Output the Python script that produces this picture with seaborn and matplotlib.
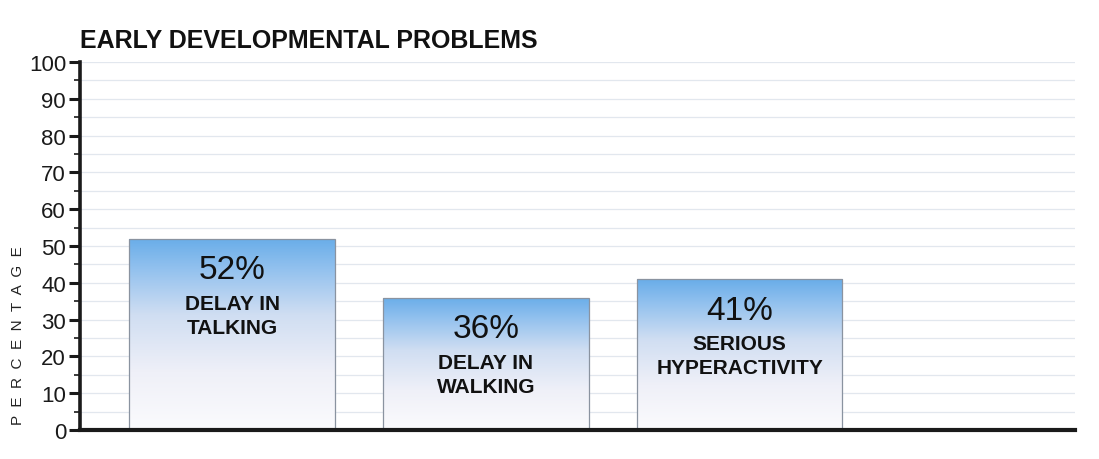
import numpy as np
import matplotlib
matplotlib.use("Agg")
import matplotlib.pyplot as plt
from matplotlib.colors import LinearSegmentedColormap
from matplotlib.ticker import MultipleLocator
import seaborn as sns

# Survey results: share of children with each early developmental problem
categories = ["DELAY IN\nTALKING", "DELAY IN\nWALKING", "SERIOUS\nHYPERACTIVITY"]
values = [52, 36, 41]
value_labels = ["52%", "36%", "41%"]
yticks = [0, 10, 20, 30, 40, 50, 60, 70, 80, 90, 100]
title = "EARLY DEVELOPMENTAL PROBLEMS"
ylabel = "P  E  R  C  E  N  T  A  G  E"

sns.set_theme(style="white")
plt.rcParams["font.family"] = ["Liberation Sans", "DejaVu Sans"]

fig = plt.figure(figsize=(10.99, 4.60), dpi=100)
ax = fig.add_axes([0.0728, 0.063, 0.905, 0.800])

sns.barplot(x=categories, y=values, width=0.81, color="white",
            edgecolor="#8a93a0", linewidth=0.9, ax=ax, zorder=3)

# blue-to-white vertical gradient inside each bar
cmap = LinearSegmentedColormap.from_list(
    "barfade", [(0.0, "#fbfbfd"), (0.3, "#eff0f8"), (0.6, "#d0def2"),
                (0.85, "#90c0ee"), (1.0, "#69ade9")])
grad = np.linspace(0, 1, 256).reshape(-1, 1)
for patch in ax.patches:
    x0, y0 = patch.get_x(), patch.get_y()
    w, h = patch.get_width(), patch.get_height()
    im = ax.imshow(grad, cmap=cmap, origin="lower", aspect="auto",
                   extent=[x0, x0 + w, y0, y0 + h], zorder=3.5)
    im.set_clip_path(patch)
    patch.set_zorder(4)
    patch.set_facecolor("none")

# value and category labels inside bars
for i, (v, lab, cat) in enumerate(zip(values, value_labels, categories)):
    ax.annotate(lab, (i, v), xytext=(0, -31), textcoords="offset pixels",
                ha="center", va="center", fontsize=24, color="#111111", zorder=6)
    ax.annotate(cat, (i, v), xytext=(0, -55), textcoords="offset pixels",
                ha="center", va="top", fontsize=15, fontweight="bold",
                color="#111111", linespacing=1.35, zorder=6)

ax.set_xlim(-0.6, 3.32)
ax.set_ylim(0, 100)
ax.set_yticks(yticks)
ax.yaxis.set_minor_locator(MultipleLocator(5))
ax.set_xticks([])
ax.set_xlabel("")

# faint horizontal rules
for y in np.arange(5, 101, 5):
    ax.axhline(y, color="#e2e7ee", lw=0.9, zorder=1)

for side in ["top", "right"]:
    ax.spines[side].set_visible(False)
ax.spines["left"].set_linewidth(2.6)
ax.spines["left"].set_color("#1a1a1a")
ax.spines["bottom"].set_linewidth(3)
ax.spines["bottom"].set_color("#1a1a1a")
ax.spines["bottom"].set_zorder(7)

ax.tick_params(axis="y", which="major", direction="out", length=8, width=2.2,
               color="#1a1a1a", labelsize=16, pad=2, left=True)
ax.tick_params(axis="y", which="minor", direction="out", length=4, width=1.2,
               color="#1a1a1a", left=True)
for t in ax.get_yticklabels():
    t.set_color("#1a1a1a")

ax.set_ylabel(ylabel, fontsize=11, color="#222222")
ax.yaxis.set_label_coords(-0.055, 0.26)

fig.text(0.073, 0.91, title, fontsize=18, fontweight="bold", color="#111111",
         ha="left", va="center")

fig.savefig("out.png", dpi=100, facecolor="white")
